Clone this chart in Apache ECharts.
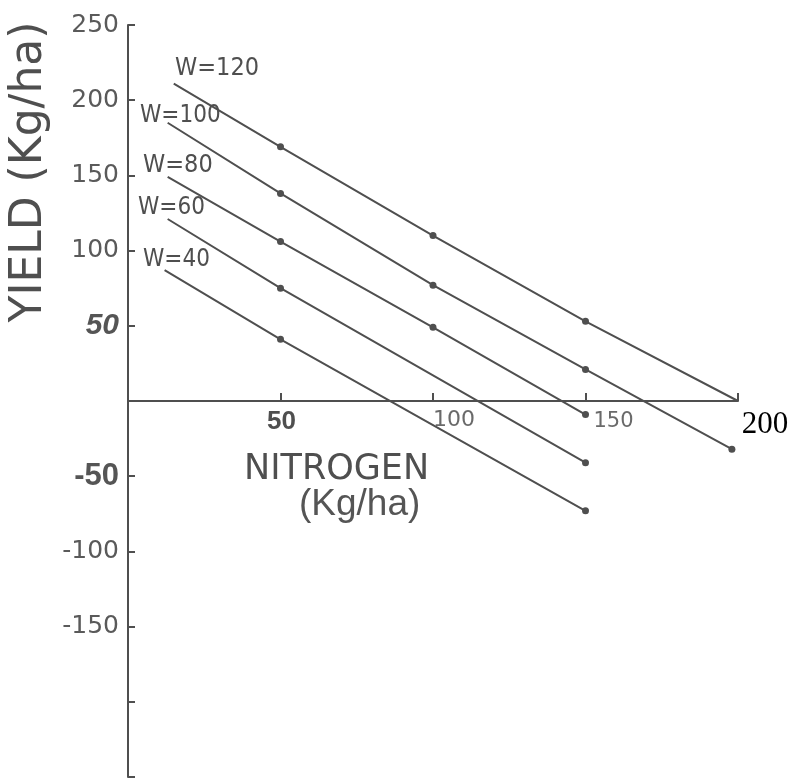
<!DOCTYPE html>
<html>
<head>
<meta charset="utf-8">
<script src="https://cdn.jsdelivr.net/npm/echarts@6/dist/echarts.min.js"></script>
<style>html,body{margin:0;padding:0;background:#fff;}#chart{width:797px;height:779px;}</style>
</head>
<body>
<div id="chart"></div>
<script>
// Data
const seriesNames = ['W=120', 'W=100', 'W=80', 'W=60', 'W=40'];
const w120Nitrogen = [15, 50, 100, 150, 200];
const w120Yield    = [211, 169, 110, 53, 0];
const w120Marked   = [false, true, true, true, false];
const w100Nitrogen = [13, 50, 100, 150, 198];
const w100Yield    = [185, 138, 77, 21, -32];
const w100Marked   = [false, true, true, true, true];
const w80Nitrogen  = [13, 50, 100, 150];
const w80Yield     = [149, 106, 49, -9];
const w80Marked    = [false, true, true, true];
const w60Nitrogen  = [13, 50, 150];
const w60Yield     = [121, 75, -41];
const w60Marked    = [false, true, true];
const w40Nitrogen  = [12, 50, 150];
const w40Yield     = [87, 41, -73];
const w40Marked    = [false, true, true];
const xTicks = [0, 50, 100, 150, 200];
const yTicks = [-250, -200, -150, -100, -50, 0, 50, 100, 150, 200, 250];

const INK = '#4f4f4f';
const GRID = { left: 128, right: 59, top: 25, bottom: 2 };
const CH = 779;
// x axis sits on yield = 0: shift the bottom axis up by the fraction of the plot height below zero
const yMin = yTicks[0], yMax = yTicks[yTicks.length - 1];
const plotH = CH - GRID.top - GRID.bottom;
const xAxisOffset = -plotH * (0 - yMin) / (yMax - yMin);

function build(nit, yld, marked) {
  return nit.map((n, i) => ({ value: [n, yld[i]], symbol: marked[i] ? 'circle' : 'none' }));
}
const seriesData = [
  build(w120Nitrogen, w120Yield, w120Marked),
  build(w100Nitrogen, w100Yield, w100Marked),
  build(w80Nitrogen, w80Yield, w80Marked),
  build(w60Nitrogen, w60Yield, w60Marked),
  build(w40Nitrogen, w40Yield, w40Marked)
];

const chart = echarts.init(document.getElementById('chart'));
const option = {
  backgroundColor: '#ffffff',
  animation: false,
  grid: { left: GRID.left, right: GRID.right, top: GRID.top, bottom: GRID.bottom, containLabel: false, outerBoundsMode: 'none' },
  xAxis: {
    type: 'value', min: xTicks[0], max: xTicks[xTicks.length - 1], interval: 50,
    position: 'bottom',
    offset: xAxisOffset,
    axisLine: { onZero: false, lineStyle: { color: INK, width: 2 } },
    axisTick: { show: true, inside: true, length: 8, lineStyle: { color: INK, width: 2 } },
    splitLine: { show: false },
    axisLabel: {
      margin: 8,
      formatter: function (v) {
        if (v === 50) return '{a|50}';
        if (v === 100) return '{b|100}';
        if (v === 150) return '{c|150}';
        if (v === 200) return '{d|200}';
        return '';
      },
      rich: {
        a: { fontFamily: 'Liberation Sans', fontWeight: 'bold', fontSize: 26, color: INK, padding: [0, 0, 0, 2] },
        b: { fontFamily: 'DejaVu Sans', fontSize: 22, color: '#6a6a6a', padding: [0, 0, 0, 42] },
        c: { fontFamily: 'DejaVu Sans', fontSize: 21, color: '#6a6a6a', padding: [2, 0, 0, 56] },
        d: { fontFamily: 'Liberation Serif', fontSize: 31, color: '#000', padding: [0, 0, 0, 54] }
      }
    }
  },
  yAxis: {
    type: 'value', min: yMin, max: yMax, interval: 50,
    axisLine: { show: true, onZero: false, lineStyle: { color: INK, width: 2 } },
    axisTick: { show: true, inside: true, length: 7, lineStyle: { color: INK, width: 2 } },
    splitLine: { show: false },
    axisLabel: {
      margin: 9,
      formatter: function (v) {
        if (v === 50) return '{bi|50}';
        if (v === -50) return '{bb|-50}';
        if (v === 0 || v === -200 || v === -250) return '';
        return '{n|' + v + '}';
      },
      rich: {
        n: { fontFamily: 'DejaVu Sans', fontSize: 25, color: '#5a5a5a' },
        bi: { fontFamily: 'Liberation Sans', fontWeight: 'bold', fontStyle: 'italic', fontSize: 30, color: '#555' },
        bb: { fontFamily: 'Liberation Sans', fontWeight: 'bold', fontSize: 31, color: '#555' }
      }
    }
  },
  series: seriesData.map((d, i) => ({
    name: seriesNames[i],
    type: 'line',
    data: d,
    symbolSize: 7,
    showAllSymbol: true,
    lineStyle: { color: INK, width: 2 },
    itemStyle: { color: INK },
    z: 3
  })),
  graphic: [
    { type: 'text', left: 175, top: 56, style: { text: 'W=120', fontFamily: 'DejaVu Sans Condensed', fontSize: 25, fill: INK } },
    { type: 'text', left: 140, top: 104, style: { text: 'W=100', fontFamily: 'DejaVu Sans Condensed', fontSize: 24, fill: INK } },
    { type: 'text', left: 143, top: 153, style: { text: 'W=80', fontFamily: 'DejaVu Sans Condensed', fontSize: 25, fill: INK } },
    { type: 'text', left: 138, top: 196, style: { text: 'W=60', fontFamily: 'DejaVu Sans Condensed', fontSize: 24, fill: INK } },
    { type: 'text', left: 143, top: 248, style: { text: 'W=40', fontFamily: 'DejaVu Sans Condensed', fontSize: 24, fill: INK } },
    { type: 'text', left: 244, top: 452, style: { text: 'NITROGEN', fontFamily: 'DejaVu Sans', fontSize: 35, fill: INK } },
    { type: 'text', left: 299, top: 486, style: { text: '(Kg/ha)', fontFamily: 'Liberation Sans', fontSize: 37, fill: '#555' } },
    { type: 'text', x: 30, y: 172, rotation: Math.PI / 2,
      style: { text: 'YIELD (Kg/ha)', fontFamily: 'DejaVu Sans', fontSize: 44, fill: INK, align: 'center', verticalAlign: 'middle' } }
  ]
};
chart.setOption(option);
</script>
</body>
</html>
